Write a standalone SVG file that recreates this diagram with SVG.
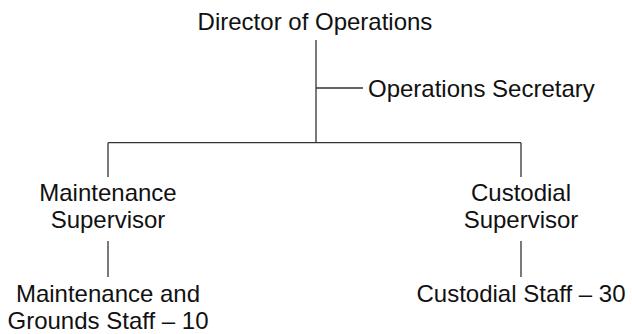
<svg xmlns="http://www.w3.org/2000/svg" width="632" height="334" viewBox="0 0 632 334">
<style>
text{font-family:"Liberation Sans",Arial,sans-serif;font-size:24px;fill:#111;text-anchor:middle}
.l{stroke:#333;stroke-width:1.3;fill:none}
</style>
<rect width="632" height="334" fill="#fff"/>
<g id="connectors">
<path class="l" d="M316,40V142.7M316,88H363M108,142.7H521M108,142.7V177M521,142.7V177M108,241V277M521,241V277"/>
</g>
<g id="director"><text x="315" y="30">Director of Operations</text></g>
<g id="secretary"><text x="368" y="96.5" style="text-anchor:start">Operations Secretary</text></g>
<g id="maint-sup"><text x="108" y="201">Maintenance</text><text x="108" y="228">Supervisor</text></g>
<g id="cust-sup"><text x="521" y="201">Custodial</text><text x="521" y="228">Supervisor</text></g>
<g id="maint-staff"><text x="108" y="302">Maintenance and</text><text x="108" y="329">Grounds Staff – 10</text></g>
<g id="cust-staff"><text x="521" y="302">Custodial Staff – 30</text></g>
</svg>
